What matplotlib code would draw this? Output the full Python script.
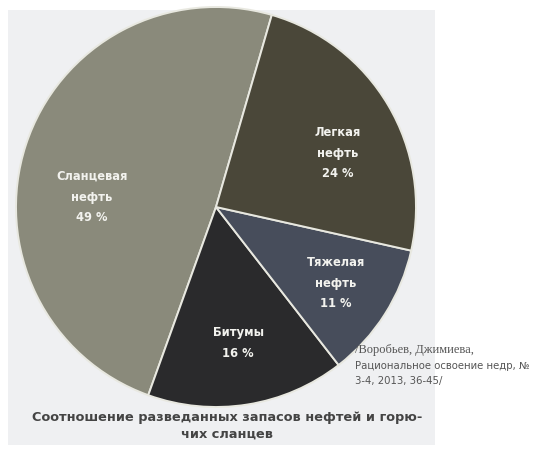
import matplotlib.pyplot as plt
from matplotlib.patches import Rectangle

# data
labels = ['Сланцевая\nнефть\n49 %', 'Битумы\n16 %', 'Тяжелая\nнефть\n11 %', 'Легкая\nнефть\n24 %']
shares = [49, 16, 11, 24]
colors = ['#8a8a7b', '#2a2a2c', '#474d5b', '#4a4739']
# label centres, in pie units (radius = 1)
label_pos = [(-0.62, 0.05), (0.11, -0.68), (0.60, -0.38), (0.61, 0.27)]

title = 'Соотношение разведанных запасов нефтей и горю-\nчих сланцев'
source = ['/Воробьев, Джимиева,', 'Рациональное освоение недр, №', '3-4, 2013, 36-45/']

fig = plt.figure(figsize=(5.36, 4.5), dpi=100)
fig.patch.set_facecolor('white')

# light grey scanned page behind the chart
bg = fig.add_axes([0, 0, 1, 1], zorder=0)
bg.add_patch(Rectangle((8 / 536, 5 / 450), 427 / 536, 435 / 450,
                       facecolor='#eff0f2', edgecolor='none'))
bg.set_xlim(0, 1)
bg.set_ylim(0, 1)
bg.axis('off')

ax = fig.add_axes([16 / 536, 43 / 450, 400 / 536, 400 / 450], zorder=1)
ax.pie(shares, colors=colors, startangle=73.8, counterclock=True,
       wedgeprops=dict(edgecolor='#e8e8e0', linewidth=1.4))
ax.set_xlim(-1, 1)
ax.set_ylim(-1, 1)
ax.set_aspect('equal')
ax.axis('off')

for lab, (x, y) in zip(labels, label_pos):
    ax.text(x, y, lab, ha='center', va='center', color='#f2f2ee',
            fontsize=8.3, fontweight='bold', family='DejaVu Sans',
            linespacing=1.75)

fig.text(227 / 536, 1 - 426 / 450, title, ha='center', va='center',
         fontsize=9.3, fontweight='bold', color='#444444', linespacing=1.3, zorder=2)

fig.text(355 / 536, 1 - 350 / 450, source[0], ha='left', va='center',
         fontsize=9, color='#555555', family='Liberation Serif', zorder=2)
fig.text(355 / 536, 1 - 366 / 450, source[1], ha='left', va='center',
         fontsize=7.3, color='#555555', family='DejaVu Sans', zorder=2)
fig.text(355 / 536, 1 - 381 / 450, source[2], ha='left', va='center',
         fontsize=7.3, color='#555555', family='DejaVu Sans', zorder=2)

fig.savefig('out.png', dpi=100)
